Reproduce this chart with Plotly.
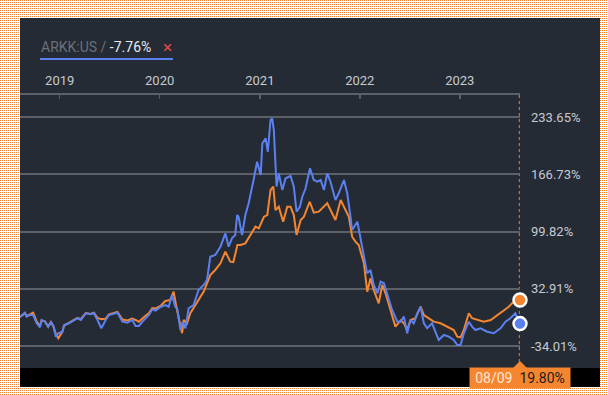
import zlib, struct, base64
import plotly.graph_objects as go

# ---------------- data ----------------
arkk_dates = ["2018-08-09","2018-08-27","2018-09-02","2018-09-14","2018-09-26","2018-10-09","2018-10-21","2018-10-27",
    "2018-11-08","2018-11-20","2018-11-30","2018-12-09","2018-12-18","2018-12-27","2019-01-11","2019-01-17",
    "2019-02-04","2019-02-22","2019-03-07","2019-03-19","2019-04-06","2019-04-24","2019-05-06","2019-05-19",
    "2019-06-02","2019-06-18","2019-06-30","2019-07-31","2019-08-18","2019-09-05","2019-09-23","2019-10-05",
    "2019-10-17","2019-11-05","2019-11-23","2019-12-05","2019-12-17","2020-01-04","2020-01-22","2020-02-03",
    "2020-02-15","2020-02-27","2020-03-05","2020-03-17","2020-03-25","2020-04-04","2020-04-16","2020-05-04",
    "2020-05-22","2020-06-10","2020-06-22","2020-07-04","2020-07-22","2020-08-10","2020-08-28","2020-09-09",
    "2020-09-21","2020-10-03","2020-10-10","2020-10-15","2020-10-28","2020-11-09","2020-11-21","2020-12-09",
    "2020-12-22","2021-01-04","2021-01-10","2021-01-22","2021-01-30","2021-02-09","2021-02-15","2021-02-21",
    "2021-03-03","2021-03-11","2021-03-24","2021-04-05","2021-04-23","2021-05-05","2021-05-15","2021-05-27",
    "2021-06-05","2021-06-17","2021-07-03","2021-07-17","2021-07-30","2021-08-11","2021-08-23","2021-09-04",
    "2021-09-16","2021-10-04","2021-10-16","2021-11-04","2021-11-16","2021-11-28","2021-12-04","2021-12-23",
    "2022-01-04","2022-01-16","2022-01-28","2022-02-09","2022-02-21","2022-03-06","2022-03-18","2022-03-30",
    "2022-04-11","2022-04-29","2022-05-18","2022-05-30","2022-06-11","2022-06-23","2022-07-05","2022-07-17",
    "2022-07-30","2022-08-11","2022-08-23","2022-09-04","2022-09-22","2022-10-04","2022-10-16","2022-11-04",
    "2022-11-22","2022-12-10","2022-12-23","2023-01-04","2023-01-16","2023-02-03","2023-02-15","2023-02-27",
    "2023-03-18","2023-04-11","2023-05-05","2023-05-30","2023-06-17","2023-07-05","2023-07-23","2023-08-09"]
arkk_values = [0.0, 5.0, 0.4, 2.3, 2.3, -7.4, -12.0, -3.5,
    -5.5, -11.3, -5.5, -10.5, -23.0, -19.0, -17.2, -9.3,
    -7.4, -3.5, -1.5, -3.5, 4.3, 3.2, 4.3, -3.5,
    -13.2, -3.5, 2.3, 5.0, -5.5, -6.7, -3.5, -10.5,
    -10.5, -3.5, 2.3, 9.0, 7.4, 11.7, 14.0, 12.0,
    25.7, 12.0, 10.2, -15.2, -5.5, -13.2, 10.2, 14.0,
    31.5, 37.4, 43.2, 70.4, 72.4, 82.1, 97.7, 82.1,
    91.9, 95.8, 119.1, 117.1, 95.8, 119.1, 132.8, 160.0,
    181.4, 165.8, 202.8, 208.7, 193.0, 230.1, 232.0, 218.4,
    152.2, 167.8, 148.3, 162.0, 164.7, 152.2, 123.0, 128.8,
    140.5, 150.3, 173.7, 160.0, 158.0, 160.0, 148.3, 167.8,
    158.0, 136.6, 144.5, 160.0, 144.5, 117.1, 101.6, 111.3,
    89.9, 70.4, 51.0, 54.9, 37.4, 27.7, 41.2, 39.4,
    27.7, 8.2, -5.5, -5.5, 0.4, -19.0, -3.5, -7.4,
    4.3, 12.0, -7.4, -13.2, -7.4, -17.2, -26.9, -21.0,
    -23.0, -26.9, -32.7, -32.7, -19.0, -5.5, -11.3, -15.2,
    -13.2, -17.2, -19.0, -13.2, -5.5, -1.5, 4.3, -7.76]

bench_dates = ["2018-08-09","2018-08-27","2018-09-02","2018-09-14","2018-09-26","2018-10-09","2018-10-21","2018-10-27",
    "2018-11-08","2018-11-20","2018-11-30","2018-12-09","2018-12-18","2018-12-27","2019-01-11","2019-01-17",
    "2019-02-04","2019-02-22","2019-03-07","2019-03-19","2019-04-06","2019-04-24","2019-05-06","2019-05-19",
    "2019-06-02","2019-06-18","2019-06-30","2019-07-31","2019-08-18","2019-09-05","2019-09-23","2019-10-05",
    "2019-10-17","2019-11-05","2019-11-23","2019-12-05","2019-12-17","2020-01-04","2020-01-22","2020-02-09",
    "2020-02-21","2020-03-02","2020-03-23","2020-03-29","2020-04-10","2020-04-22","2020-05-16","2020-06-10",
    "2020-07-04","2020-07-22","2020-08-10","2020-08-28","2020-09-15","2020-09-26","2020-10-11","2020-10-22",
    "2020-11-09","2020-11-27","2020-12-16","2020-12-28","2021-01-16","2021-01-28","2021-02-09","2021-02-19",
    "2021-02-27","2021-03-11","2021-03-27","2021-04-11","2021-04-23","2021-05-05","2021-05-15","2021-05-30",
    "2021-06-11","2021-07-02","2021-07-17","2021-08-04","2021-08-17","2021-09-04","2021-09-16","2021-10-04",
    "2021-10-23","2021-11-10","2021-11-22","2021-12-04","2021-12-16","2021-12-28","2022-01-16","2022-01-28",
    "2022-02-09","2022-02-21","2022-03-11","2022-03-24","2022-04-05","2022-04-23","2022-05-11","2022-05-30",
    "2022-06-11","2022-06-23","2022-07-05","2022-07-23","2022-08-11","2022-08-23","2022-09-10","2022-09-28",
    "2022-10-23","2022-11-16","2022-12-10","2022-12-23","2023-01-04","2023-01-16","2023-02-03","2023-02-15",
    "2023-03-06","2023-03-30","2023-04-24","2023-05-18","2023-06-11","2023-06-29","2023-07-17","2023-08-09"]
bench_values = [0.0, 4.5, 1.0, 3.5, 5.0, -5.5, -10.5, -4.0,
    -5.0, -11.5, -6.0, -11.0, -20.0, -25.0, -17.0, -10.0,
    -6.5, -3.0, -1.0, -2.5, 4.5, 3.5, 5.0, -1.0,
    -2.5, -2.0, 3.0, 6.0, -3.0, -4.0, -2.0, -3.5,
    -5.5, 0.0, 4.5, 10.5, 10.0, 12.8, 18.7, 19.9,
    29.6, 12.0, -19.0, -3.5, -7.4, 4.3, 16.0, 29.6,
    49.0, 54.9, 62.7, 76.3, 64.6, 64.0, 84.0, 84.1,
    86.0, 95.7, 105.5, 103.5, 117.1, 119.1, 148.3, 152.2,
    124.9, 128.8, 111.3, 128.8, 128.8, 119.1, 95.8, 113.3,
    117.1, 134.6, 121.8, 123.0, 126.9, 132.8, 124.9, 113.3,
    136.6, 124.9, 117.1, 93.8, 88.0, 84.1, 62.7, 29.6,
    45.2, 31.5, 16.0, 37.4, 27.7, 8.2, -11.3, -4.0,
    -7.4, -15.2, -3.5, -1.5, 12.0, 2.3, -1.5, -5.5,
    -7.4, -11.3, -15.2, -23.0, -23.8, -15.2, 4.3, -1.5,
    -3.5, -5.5, -3.5, 2.3, 8.2, 12.0, 17.9, 19.80]

year_ticks = ["2019-01-01", "2020-01-01", "2021-01-01", "2022-01-01", "2023-01-01"]
year_labels = ["2019", "2020", "2021", "2022", "2023"]
y_ticks = [233.65, 166.73, 99.82, 32.91, -34.01]
y_labels = ["233.65%", "166.73%", "99.82%", "32.91%", "-34.01%"]
legend_name = "ARKK:US"
legend_value = "-7.76%"
end_label_date = "08/09"
end_label_value = "19.80%"

# ---------------- style ----------------
W, H = 608, 395
L, R, T, B = 20, 88, 95, 27
PW, PH = W - L - R, H - T - B
BLUE = "#5b80f0"
ORANGE = "#f5862f"
BG = "#252b35"
GRID = "#5c6168"
TXT = "#c6cad0"
FONT = "Roboto"

def px(x):
    return (x - L) / PW

def py(y):
    return (H - B - y) / PH

# dotted frame pattern
def pattern_png(w, h):
    raw = bytearray()
    o = bytes([0xec, 0x80, 0x2e]); wh = bytes([255, 255, 255])
    for y in range(h):
        raw.append(0)
        for x in range(w):
            raw += o if (x % 2 == 0 and y % 2 == 0) else wh
    def chunk(t, d):
        c = struct.pack(">I", len(d)) + t + d
        return c + struct.pack(">I", zlib.crc32(t + d) & 0xffffffff)
    png = b"\x89PNG\r\n\x1a\n" + chunk(b"IHDR", struct.pack(">IIBBBBB", w, h, 8, 2, 0, 0, 0))
    png += chunk(b"IDAT", zlib.compress(bytes(raw), 9)) + chunk(b"IEND", b"")
    return "data:image/png;base64," + base64.b64encode(png).decode()

fig = go.Figure()
fig.add_trace(go.Scatter(x=bench_dates, y=bench_values, mode="lines",
                         line=dict(color=ORANGE, width=2), hoverinfo="skip"))
fig.add_trace(go.Scatter(x=arkk_dates, y=arkk_values, mode="lines",
                         line=dict(color=BLUE, width=2), hoverinfo="skip"))
fig.add_trace(go.Scatter(x=[bench_dates[-1]], y=[bench_values[-1]], mode="markers", cliponaxis=False,
                         marker=dict(color=ORANGE, size=13, line=dict(color="white", width=2.5)), hoverinfo="skip"))
fig.add_trace(go.Scatter(x=[arkk_dates[-1]], y=[arkk_values[-1]], mode="markers", cliponaxis=False,
                         marker=dict(color=BLUE, size=13, line=dict(color="white", width=2.5)), hoverinfo="skip"))

shapes = [
    dict(type="rect", xref="paper", yref="paper", x0=px(20), x1=px(600), y0=py(368), y1=py(18),
         fillcolor=BG, line=dict(width=0), layer="below"),
    dict(type="rect", xref="paper", yref="paper", x0=px(20), x1=px(600), y0=py(387), y1=py(368),
         fillcolor="#000000", line=dict(width=0), layer="below"),
    dict(type="line", xref="x", yref="paper", x0=arkk_dates[-1], x1=arkk_dates[-1], y0=py(362), y1=1,
         line=dict(color="#c86a2c", width=2.5, dash="dot"), layer="below"),
    dict(type="path", xref="paper", yref="paper",
         path=f"M {px(513)} {py(368)} L {px(520)} {py(361)} L {px(527)} {py(368)} Z",
         fillcolor=ORANGE, line=dict(width=0)),
    dict(type="line", xref="paper", yref="paper", x0=px(40), x1=px(173), y0=py(59), y1=py(59),
         line=dict(color=BLUE, width=2)),
]

annotations = [
    dict(xref="paper", yref="paper", x=px(39), y=py(47), xanchor="left", yanchor="middle", showarrow=False,
         text=f"<span style='color:#6b7079'>{legend_name} / </span><span style='color:#e8eaed'>{legend_value}</span>",
         font=dict(family=FONT, size=14)),
    dict(xref="paper", yref="paper", x=px(161), y=py(47), xanchor="left", yanchor="middle", showarrow=False,
         text="×", font=dict(family=FONT, size=17, color="#e04a4a")),
    dict(xref="x", yref="paper", x=arkk_dates[-1], y=py(377.5), xanchor="center", yanchor="middle",
         showarrow=False, bgcolor=ORANGE, borderpad=2, width=96,
         text=f"<span style='color:#fde6d4'>{end_label_date}</span>  <span style='color:#1c1c1c'>{end_label_value}</span>",
         font=dict(family=FONT, size=14)),
]

fig.update_layout(
    width=W, height=H,
    margin=dict(l=L, r=R, t=T, b=B, pad=0),
    paper_bgcolor="white", plot_bgcolor="rgba(0,0,0,0)",
    showlegend=False, hovermode=False,
    shapes=shapes, annotations=annotations,
    images=[dict(source=pattern_png(W, H), xref="paper", yref="paper", x=px(0), y=py(0),
                 sizex=W / PW, sizey=H / PH, xanchor="left", yanchor="top", sizing="stretch", layer="below")],
    xaxis=dict(type="date", range=[arkk_dates[0], arkk_dates[-1]], side="top",
               tickvals=year_ticks, ticktext=year_labels, ticks="inside", ticklen=4, tickwidth=1.5,
               tickcolor=GRID, showline=True, linecolor=GRID, linewidth=2, showgrid=False, zeroline=False,
               tickfont=dict(family=FONT, size=13, color=TXT), ticklabelstandoff=3, fixedrange=True),
    yaxis=dict(range=[-59.6, 259.3], side="right", tickvals=y_ticks, ticktext=y_labels, ticks="",
               showgrid=True, gridcolor=GRID, gridwidth=2, zeroline=False, showline=False,
               tickfont=dict(family=FONT, size=13, color=TXT), ticklabelstandoff=10, fixedrange=True),
)

fig.write_html("out.html", config={"displayModeBar": False, "staticPlot": True},
               post_script="document.body.style.margin='0';document.body.style.overflow='hidden';")
